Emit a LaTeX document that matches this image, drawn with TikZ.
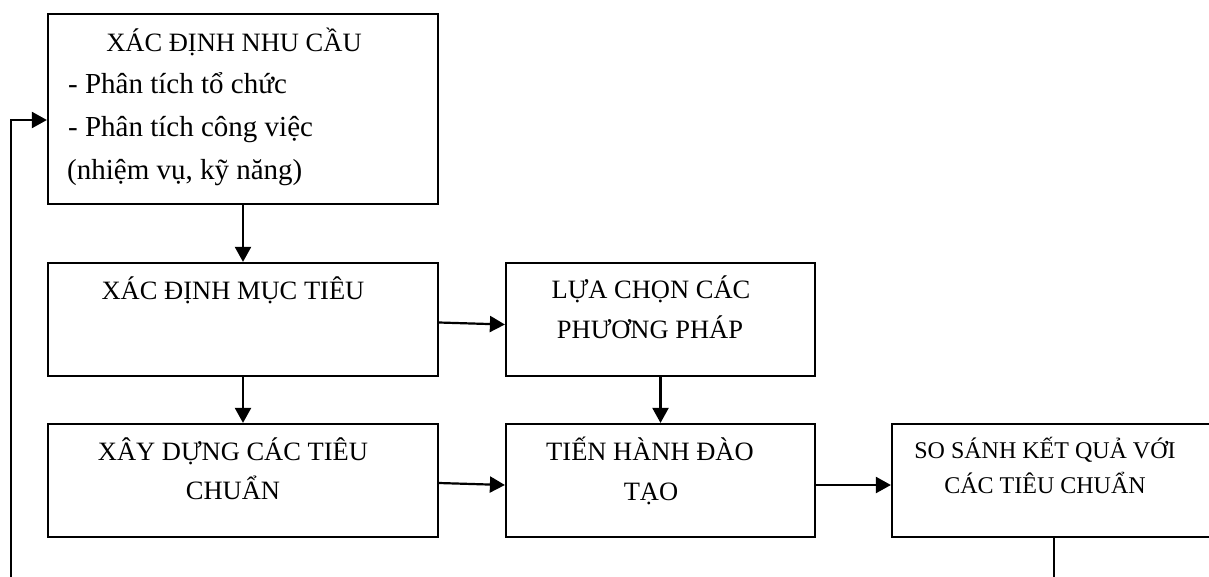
\documentclass[tikz,border=0pt]{standalone}
\usepackage{fontspec}
\setmainfont{Liberation Serif}
\usetikzlibrary{arrows.meta}
\tikzset{
  box/.style={draw, line width=2.2pt, rectangle, inner sep=0pt},
  txt/.style={inner sep=0pt, anchor=base, font=\fontsize{26.5}{30}\selectfont},
  txtl/.style={inner sep=0pt, anchor=base west, font=\fontsize{29}{33}\selectfont},
  txts/.style={inner sep=0pt, anchor=base, font=\fontsize{24}{28}\selectfont},
  arr/.style={line width=2.2pt, -{Triangle[length=15pt,width=16pt]}},
  ln/.style={line width=2.2pt}
}
\begin{document}
\begin{tikzpicture}[x=1pt,y=-1pt]
\useasboundingbox (0,0) rectangle (1209,576);
\clip (0,0) rectangle (1209,576);
% boxes
\node[box, minimum width=390pt, minimum height=190pt] (b1) at (243,109) {};
\node[box, minimum width=390pt, minimum height=113pt] (b2) at (243,319.5) {};
\node[box, minimum width=390pt, minimum height=113pt] (b3) at (243,480.5) {};
\node[box, minimum width=309pt, minimum height=113pt] (b4) at (660.5,319.5) {};
\node[box, minimum width=309pt, minimum height=113pt] (b5) at (660.5,480.5) {};
\node[box, minimum width=324pt, minimum height=113pt] (b6) at (1054,480.5) {};
% texts
\node[txt] (t1a) at (234,51) {XÁC ĐỊNH NHU CẦU};
\node[txtl] (t1b) at (68,93) {- Phân tích tổ chức};
\node[txtl] (t1c) at (68,136) {- Phân tích công việc};
\node[txtl] (t1d) at (67,179) {(nhiệm vụ, kỹ năng)};
\node[txt] (t2a) at (233,299) {XÁC ĐỊNH MỤC TIÊU};
\node[txt] (t3a) at (233,460) {XÂY DỰNG CÁC TIÊU};
\node[txt] (t3b) at (233,499) {CHUẨN};
\node[txt] (t4a) at (651,298) {LỰA CHỌN CÁC};
\node[txt] (t4b) at (650,338) {PHƯƠNG PHÁP};
\node[txt] (t5a) at (650,460) {TIẾN HÀNH ĐÀO};
\node[txt] (t5b) at (651,500) {TẠO};
\node[txts] (t6a) at (1045,458) {SO SÁNH KẾT QUẢ VỚI};
\node[txts] (t6b) at (1045,493) {CÁC TIÊU CHUẨN};
% connectors
\draw[arr] (b1.south) -- (b2.north);
\draw[arr] (b2.south) -- (b3.north);
\draw[arr] (b4.south) -- (b5.north);
\draw[arr] ([yshift=-3pt]b2.east) -- ([yshift=-5pt]b4.west);
\draw[arr] ([yshift=-2.5pt]b3.east) -- ([yshift=-4.5pt]b5.west);
\draw[arr] ([yshift=-4.5pt]b5.east) -- ([yshift=-4.5pt]b6.west);
\coordinate (c1) at (1054,600);
\coordinate (c2) at (11,600);
\coordinate (c3) at (11,120);
\draw[arr] (b6.south) -- (c1) -- (c2) -- (c3) -- (c3 -| b1.west);
\end{tikzpicture}
\end{document}
